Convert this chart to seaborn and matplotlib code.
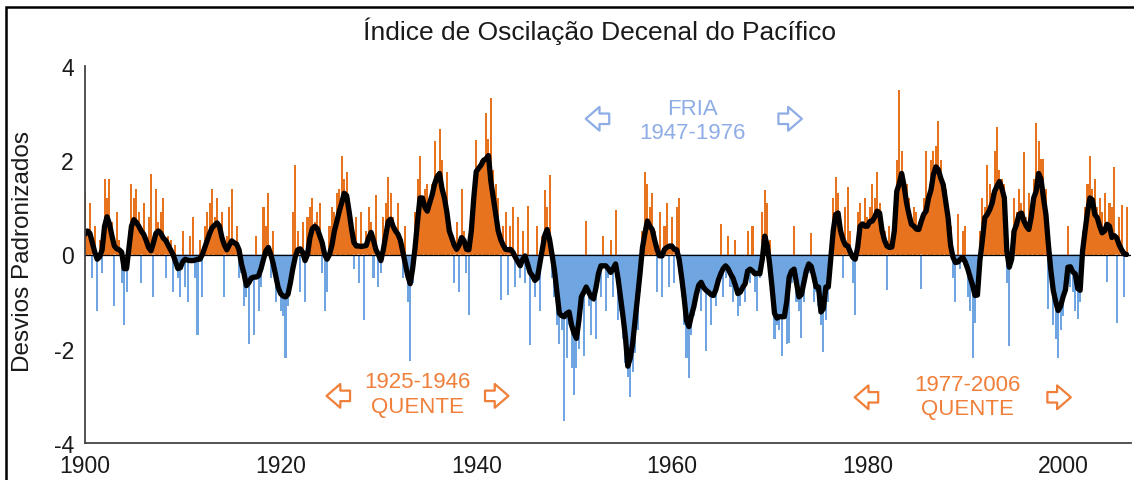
import numpy as np
import pandas as pd
import matplotlib
matplotlib.use('Agg')
import matplotlib.pyplot as plt
import seaborn as sns
from matplotlib.patches import Rectangle

# PDO index, quarterly values (1900.00 ... 2006.50)
indice_trimestral = [
    1.3, 0.4, 1.1, -0.5,   0.6, -1.2, 0.3, -0.4,   1.6, 1.2, 1.6, 0.7,   -1.1, 0.9, 0.3, -0.6,
    -1.5, -0.8, 0.5, 1.5,  1.2, 1.4, 0.9, -0.6,    1.1, 0.3, 0.8, 1.7,   -0.9, 1.4, 0.7, 0.9,
    1.2, -0.5, 0.4, 0.3,   -0.8, 0.2, -0.5, -0.9,  0.5, -0.7, -1.0, 0.4, 0.8, -0.5, -1.7, 0.3,
    -0.9, 0.6, 0.9, 1.1,   1.4, 0.8, 1.2, 0.5,     0.9, -0.9, 0.4, 1.0,  1.4, 0.2, 0.6, -0.5,
    -0.4, -1.1, -0.9, -1.9, -0.6, -1.7, 0.4, -1.2, -0.7, 1.0, 0.6, 1.3,  -0.5, 0.5, -1.0, -0.8,
    -1.2, -1.3, -2.2, -1.1, -0.6, 0.9, 1.9, 0.5,   -0.8, 0.7, -1.0, 0.8, 1.0, 1.2, 0.7, 0.9,
    1.1, -0.4, -1.2, -0.8, 0.6, 1.0, 0.9, 1.3,     1.4, 2.1, 1.6, 1.75,  1.2, 0.6, -0.3, 0.8,
    -0.6, 0.9, -1.4, 0.5,  1.0, 0.7, -0.5, 1.27,   -0.7, -0.4, 0.8, 1.1, 1.65, 1.3, 0.8, 0.3,
    1.1, 0.4, -0.5, 0.6,   -1.0, -2.27, -0.6, 0.9, 1.6, 2.1, 1.0, 1.4,   1.5, 0.9, 1.5, 2.4,
    1.2, 2.66, 2.0, 0.9,   1.75, 0.8, 0.2, -0.6,   0.7, -0.8, 1.4, 0.5,  -0.4, -1.29, 0.9, 1.6,
    2.42, 1.8, 2.0, 1.5,   3.0, 2.45, 3.33, 1.8,   1.5, 1.2, -0.97, 0.6, 0.9, -0.87, 0.6, 1.0,
    -0.7, 0.8, -0.5, 0.5,  -0.6, 1.02, -1.92, -0.4, -0.9, 0.6, -1.2, 0.4, 1.37, 1.0, 1.69, -0.5,
    -0.9, -1.5, -1.9, -1.6, -3.54, -2.2, -1.5, -2.4, -2.98, -2.4, -2.0, -1.3, -2.15, 0.71, -1.1, -1.7,
    -1.0, -1.8, -0.6, -0.9, 0.4, -1.2, -0.5, 0.3,  -0.9, 0.95, -1.4, -1.2, -1.8, -2.3, -2.6, -3.02,
    -2.5, -2.1, -1.6, -0.8, 0.5, 1.76, 1.5, 1.0,   1.3, 0.5, -0.8, 0.9,  -0.9, 0.6, 1.1, -0.7,
    0.8, -0.6, 1.0, 1.2,   -0.9, -1.5, -2.2, -2.63, -1.7, -1.3, -1.0, -0.6, -1.2, -0.4, -2.04, -0.8,
    -1.5, -0.6, -1.1, -0.7, 0.64, -0.9, -0.5, 0.4, -0.7, -1.0, 0.3, -1.3, -1.1, -0.5, -1.0, 0.5,
    -0.6, 0.6, -0.8, -1.2, -0.5, 0.9, 1.37, 1.1,   0.3, -1.0, -1.8, -1.5, -1.6, -2.16, -1.2, -1.9,
    -1.88, -0.6, 0.6, -1.0, -1.2, -1.78, -1.0, -0.5, -0.4, 0.46, -1.0, -0.8, -1.1, -1.5, -2.06, -1.4,
    -1.0, 0.3, 1.2, 1.65,  1.3, 0.6, -0.5, 1.0,    1.44, 0.5, -0.6, -1.29, 0.9, 1.1, 0.6, 1.2,
    0.8, 1.0, 1.5, 1.2,    1.76, 1.1, 0.7, 0.5,    -0.76, 0.6, 0.3, 1.0, 2.0, 3.5, 2.2, 1.3,
    1.5, 1.2, 0.8, 1.0,    0.9, 0.4, -0.73, 1.2,   2.2, 1.3, 2.0, 2.2,   2.3, 2.84, 2.0, 1.6,
    1.4, 0.9, 0.6, -0.5,   -1.0, 0.85, -0.3, 0.5,  0.6, -0.9, -1.2, -2.2, -1.46, -0.8, 0.5, 1.2,
    1.0, 1.9, 1.5, 1.3,    2.2, 2.7, 1.8, 1.6,     1.5, -0.6, -1.95, 0.5, 1.2, 0.9, 1.4, 1.1,
    2.17, 0.8, 1.3, 0.9,   1.6, 2.8, 2.4, 2.03,    2.03, 1.4, -1.15, -0.7, -1.5, -1.8, -2.2, -1.6,
    -1.3, -0.9, 0.6, -0.7, -0.8, -1.2, -1.36, -1.0, 0.5, 1.0, 1.5, 2.1,  1.4, 1.6, 1.0, 1.2,
    0.9, 1.3, -0.59, 1.1,  1.0, 1.86, -1.46, 0.8,  1.06, -0.9, 1.0,
]

# smoothed index (thick black line), same quarterly steps
media_movel = [
    0.43, 0.5, 0.45, 0.25,   0.05, -0.1, -0.05, 0.1,   0.6, 0.8, 0.65, 0.4,    0.18, 0.12, 0.1, 0.05,
    -0.3, -0.3, 0.15, 0.6,   0.74, 0.68, 0.6, 0.5,     0.43, 0.3, 0.15, 0.08,  0.25, 0.45, 0.5, 0.45,
    0.35, 0.3, 0.2, 0.1,     0.0, -0.15, -0.3, -0.28,  -0.15, -0.1, -0.12, -0.13, -0.13, -0.12, -0.1, -0.1,
    0.0, 0.15, 0.3, 0.45,    0.57, 0.62, 0.67, 0.6,    0.36, 0.2, 0.1, 0.2,    0.29, 0.25, 0.22, 0.1,
    -0.2, -0.4, -0.66, -0.6, -0.5, -0.48, -0.48, -0.45, -0.3, -0.1, 0.08, 0.15, 0.0, -0.2, -0.45, -0.7,
    -0.83, -0.88, -0.9, -0.85, -0.6, -0.3, -0.05, 0.1, 0.12, 0.05, -0.13, 0.0, 0.36, 0.55, 0.6, 0.55,
    0.4, 0.25, 0.0, -0.1,    0.0, 0.2, 0.5, 0.7,       0.92, 1.1, 1.3, 1.25,   0.92, 0.55, 0.25, 0.18,
    0.18, 0.17, 0.18, 0.19,  0.35, 0.47, 0.3, 0.1,     0.0, -0.13, 0.1, 0.4,   0.7, 0.75, 0.6, 0.5,
    0.43, 0.3, 0.05, -0.2,   -0.45, -0.62, -0.3, 0.15, 0.7, 1.2, 1.2, 1.0,     0.92, 1.1, 1.27, 1.5,
    1.65, 1.72, 1.4, 1.2,    0.9, 0.5, 0.35, 0.2,      0.11, 0.2, 0.36, 0.3,   0.11, 0.1, 0.5, 1.2,
    1.76, 1.83, 1.9, 2.0,    2.03, 2.1, 1.55, 1.2,     0.85, 0.5, 0.32, 0.2,   0.11, 0.1, 0.11, 0.05,
    -0.06, -0.15, -0.24, -0.1, -0.03, -0.2, -0.38, -0.45, -0.55, -0.5, -0.2, 0.1, 0.4, 0.53, 0.32, 0.0,
    -0.34, -0.8, -1.25, -1.3, -1.32, -1.25, -1.22, -1.5, -1.67, -1.78, -1.4, -0.9, -0.8, -0.69, -0.8, -0.9,
    -0.94, -0.7, -0.4, -0.24, -0.24, -0.24, -0.3, -0.38, -0.3, -0.2, -0.5, -0.9, -1.3, -1.74, -2.37, -2.2,
    -1.88, -1.4, -0.9, -0.4, 0.15, 0.45, 0.71, 0.6,    0.53, 0.3, 0.1, -0.03,  -0.03, 0.11, 0.15, 0.18,
    0.18, 0.11, 0.1, -0.1,   -0.48, -0.9, -1.4, -1.53, -1.3, -1.11, -0.85, -0.65, -0.59, -0.7, -0.76, -0.8,
    -0.85, -0.87, -0.75, -0.55, -0.41, -0.3, -0.24, -0.3, -0.41, -0.5, -0.65, -0.83, -0.8, -0.7, -0.62, -0.35,
    -0.31, -0.35, -0.41, -0.4, -0.41, -0.1, 0.39, 0.2, -0.2, -0.7, -1.25, -1.35, -1.32, -1.32, -1.32, -1.0,
    -0.48, -0.35, -0.31, -0.6, -0.9, -0.85, -0.6, -0.35, -0.2, -0.25, -0.45, -0.69, -0.69, -1.22, -1.15, -0.69,
    -0.69, -0.1, 0.5, 0.85,  0.88, 0.5, 0.32, 0.2,     0.18, 0.05, -0.06, -0.1, 0.15, 0.6, 0.65, 0.6,
    0.6, 0.7, 0.71, 0.8,     0.92, 0.88, 0.5, 0.3,     0.18, 0.15, 0.16, 0.5,  1.34, 1.5, 1.72, 1.45,
    1.1, 0.85, 0.64, 0.6,    0.54, 0.53, 0.7, 0.85,    0.92, 1.2, 1.37, 1.7,   1.86, 1.8, 1.62, 1.48,
    1.13, 0.78, 0.2, -0.06,  -0.17, -0.16, -0.1, -0.06, -0.16, -0.3, -0.48, -0.65, -0.87, -0.86, -0.13, 0.3,
    0.78, 0.85, 0.95, 1.09,  1.34, 1.45, 1.55, 1.4,    1.2, 0.08, -0.27, -0.1, 0.5, 0.64, 0.85, 0.88,
    0.71, 0.6, 0.53, 0.8,    1.2, 1.34, 1.72, 1.6,     1.2, 0.85, 0.22, -0.33, -0.76, -1.0, -1.19, -1.1,
    -0.9, -0.75, -0.27, -0.26, -0.37, -0.41, -0.72, -0.76, 0.08, 0.5, 0.9, 1.2, 1.16, 0.85, 0.78, 0.6,
    0.46, 0.5, 0.64, 0.6,    0.36, 0.4, 0.35, 0.2,     0.1, 0.01, 0.0,
]

anos_ticks = [1900, 1920, 1940, 1960, 1980, 2000]
valores_ticks = [-4, -2, 0, 2, 4]

n = min(len(indice_trimestral), len(media_movel))
df = pd.DataFrame({
    'ano': 1900 + np.arange(n) / 4,
    'indice': indice_trimestral[:n],
    'media': media_movel[:n],
})

laranja = '#E8731E'
azul = '#6FA6E2'
txt_laranja = '#F07F3A'
txt_azul = '#8EADE6'

sns.set_theme(style='white')
plt.rcParams['font.family'] = ['Liberation Sans', 'DejaVu Sans']
plt.rcParams['axes.unicode_minus'] = False

fig = plt.figure(figsize=(11.34, 4.81), dpi=100)
ax = fig.add_axes([85 / 1134, 37 / 481, 1046 / 1134, 377 / 481])

# shaded area between smoothed curve and zero
ax.fill_between(df['ano'], df['media'], 0, where=df['media'] >= 0,
                interpolate=True, color=laranja, lw=0)
ax.fill_between(df['ano'], df['media'], 0, where=df['media'] <= 0,
                interpolate=True, color=azul, lw=0)

# index bars
cores = np.where(df['indice'] >= 0, laranja, azul)
ax.bar(df['ano'], df['indice'], width=0.21, color=cores, linewidth=0)

ax.axhline(0, color='black', lw=0.9)
sns.lineplot(x='ano', y='media', data=df, ax=ax, color='black', lw=3.8)

ax.set_xlim(1900, 2006.95)
ax.set_ylim(-4, 4)
ax.set_xticks(anos_ticks)
ax.set_yticks(valores_ticks)
ax.set_xlabel('')
ax.set_ylabel('')
ax.tick_params(direction='in', length=10, width=1.2, color='#333333',
               labelsize=16.5, labelcolor='#1a1a1a')
ax.tick_params(axis='x', pad=8)
ax.tick_params(axis='y', pad=8)
sns.despine(ax=ax)
for s in ['left', 'bottom']:
    ax.spines[s].set_color('#444444')
    ax.spines[s].set_linewidth(1.3)

fig.text(0.529, 0.936, 'Índice de Oscilação Decenal do Pacífico',
         ha='center', va='center', fontsize=19, color='#1a1a1a')
fig.text(0.020, 0.478, 'Desvios Padronizados', rotation=90,
         ha='center', va='center', fontsize=17.5, color='#1a1a1a')


def seta(x, y, sentido, cor):
    # hollow block arrow, about 2.4 years long
    estilo = 'simple,head_length=0.55,head_width=0.95,tail_width=0.42'
    ax.annotate('', xy=(x + 1.2 * sentido, y), xytext=(x - 1.2 * sentido, y),
                arrowprops=dict(arrowstyle=estilo, fc='white', ec=cor,
                                lw=1.6, mutation_scale=18, shrinkA=0, shrinkB=0))


# period annotations
def periodo(x_txt, y1, y2, l1, l2, x_esq, x_dir, y_seta, cor):
    ax.text(x_txt, y1, l1, ha='center', va='center', fontsize=16, color=cor)
    ax.text(x_txt, y2, l2, ha='center', va='center', fontsize=16, color=cor)
    seta(x_esq, y_seta, -1, cor)
    seta(x_dir, y_seta, 1, cor)


periodo(1934.0, -2.7, -3.23, '1925-1946', 'QUENTE', 1925.9, 1942.1, -3.0, txt_laranja)
periodo(1962.1, 3.1, 2.58, 'FRIA', '1947-1976', 1952.4, 1972.1, 2.88, txt_azul)
periodo(1990.2, -2.75, -3.26, '1977-2006', 'QUENTE', 1979.9, 1999.6, -3.03, txt_laranja)

# frame around the picture
fig.patches.append(Rectangle((6 / 1134, -0.2), 1.2, 1.2 - 8 / 481,
                             transform=fig.transFigure, fill=False,
                             edgecolor='black', lw=1.8))

fig.savefig('out.png', dpi=100)
